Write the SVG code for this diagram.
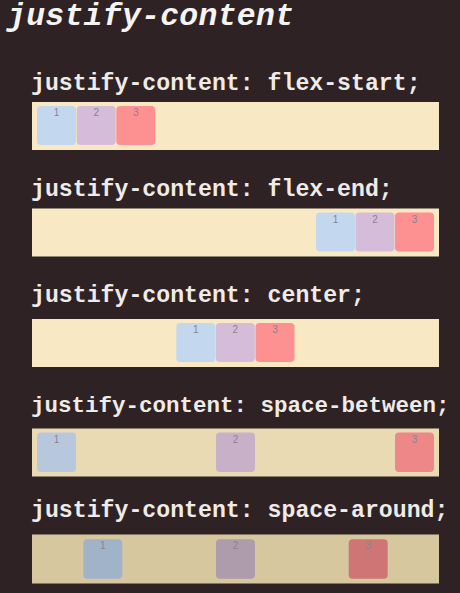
<svg xmlns="http://www.w3.org/2000/svg" width="460" height="593" viewBox="0 0 460 593">
<style>
.title{font-family:"Liberation Mono","DejaVu Sans Mono",monospace;font-weight:bold;font-style:italic;font-size:31.5px;fill:#f6f4f2}
.lbl{font-family:"Liberation Mono","DejaVu Sans Mono",monospace;font-weight:bold;font-size:23.2px;fill:#efebe7}
.num{font-family:"Liberation Sans",Arial,sans-serif;font-size:10px;fill:#8c8294;text-anchor:middle}
.box{rx:4;ry:4}
</style>
<rect x="0" y="0" width="460" height="593" fill="#2f2224"/>
<text class="title" x="7" y="25" textLength="287" lengthAdjust="spacing">justify-content</text>

<g id="flex-start">
<text class="lbl" x="31" y="90">justify-content: flex-start;</text>
<rect x="32" y="102" width="407" height="48" fill="#f8e8c4"/>
<rect class="box" x="37" y="106" width="39" height="39" fill="#c3d7ef"/>
<rect class="box" x="76.7" y="106" width="39" height="39" fill="#d5bcd9"/>
<rect class="box" x="116.3" y="106" width="39" height="39" fill="#fd9191"/>
<text class="num" x="56.5" y="116">1</text>
<text class="num" x="96.2" y="116">2</text>
<text class="num" x="135.8" y="116">3</text>
</g>

<g id="flex-end">
<text class="lbl" x="31" y="196">justify-content: flex-end;</text>
<rect x="32" y="208.5" width="407" height="48" fill="#f8e8c4"/>
<rect class="box" x="316" y="212.5" width="39" height="39" fill="#c3d7ef"/>
<rect class="box" x="355.5" y="212.5" width="39" height="39" fill="#d5bcd9"/>
<rect class="box" x="395" y="212.5" width="39" height="39" fill="#fd9191"/>
<text class="num" x="335.5" y="222.5">1</text>
<text class="num" x="375" y="222.5">2</text>
<text class="num" x="414.5" y="222.5">3</text>
</g>

<g id="center">
<text class="lbl" x="31" y="302">justify-content: center;</text>
<rect x="32" y="319" width="407" height="48" fill="#f8e8c4"/>
<rect class="box" x="176.3" y="323" width="39" height="39" fill="#c3d7ef"/>
<rect class="box" x="215.8" y="323" width="39" height="39" fill="#d5bcd9"/>
<rect class="box" x="255.5" y="323" width="39" height="39" fill="#fd9191"/>
<text class="num" x="195.8" y="333">1</text>
<text class="num" x="235.3" y="333">2</text>
<text class="num" x="275" y="333">3</text>
</g>

<g id="space-between">
<text class="lbl" x="31" y="412" style="font-size:22.5px">justify-content: space-between;</text>
<rect x="32" y="428.5" width="407" height="48" fill="#eadab4"/>
<rect class="box" x="37" y="432.5" width="39" height="39.5" fill="#b7c8dd"/>
<rect class="box" x="216" y="432.5" width="39" height="39.5" fill="#c8b1c8"/>
<rect class="box" x="395" y="432.5" width="39" height="39.5" fill="#ee8787"/>
<text class="num" x="56.5" y="442.5">1</text>
<text class="num" x="235.5" y="442.5">2</text>
<text class="num" x="414.5" y="442.5">3</text>
</g>

<g id="space-around">
<text class="lbl" x="31" y="517">justify-content: space-around;</text>
<rect x="32" y="534.5" width="407" height="49" fill="#d7c79f"/>
<rect class="box" x="83.3" y="539.3" width="39" height="39.5" fill="#a1b3c8"/>
<rect class="box" x="216" y="539.3" width="39" height="39.5" fill="#ae9bac"/>
<rect class="box" x="348.7" y="539.3" width="39" height="39.5" fill="#d07575"/>
<text class="num" x="102.8" y="549.3">1</text>
<text class="num" x="235.5" y="549.3">2</text>
<text class="num" x="368.2" y="549.3">3</text>
</g>
</svg>
